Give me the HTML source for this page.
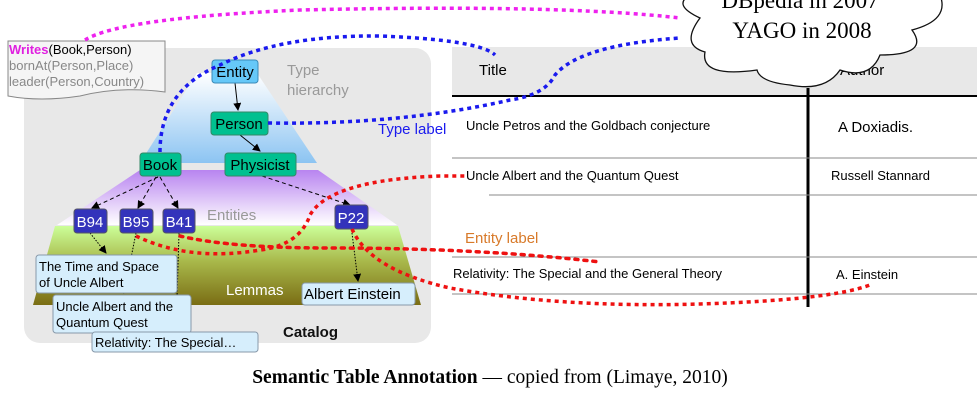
<!DOCTYPE html>
<html><head><meta charset="utf-8"><style>
body{margin:0;background:#fff;width:977px;height:410px;overflow:hidden}
svg{display:block}
.s{font-family:"Liberation Sans",sans-serif}
.r{font-family:"Liberation Serif",serif}
</style></head><body>
<svg width="977" height="410" viewBox="0 0 977 410">
<defs>
<linearGradient id="gb" x1="0" y1="0" x2="0" y2="1"><stop offset="0" stop-color="#fff"/><stop offset="1" stop-color="#8cc4f2"/></linearGradient>
<linearGradient id="gp" x1="0" y1="0" x2="0" y2="1"><stop offset="0" stop-color="#b884f0"/><stop offset="1" stop-color="#fff"/></linearGradient>
<linearGradient id="gg" x1="0" y1="0" x2="0" y2="1"><stop offset="0" stop-color="#ccff99"/><stop offset="0.45" stop-color="#a8b84a"/><stop offset="1" stop-color="#7a6d14"/></linearGradient>
<marker id="ar" markerWidth="8" markerHeight="8" refX="7" refY="4" orient="auto"><path d="M0,0 L8,4 L0,8 z" fill="#000"/></marker>
</defs>
<g class="s">
<rect x="24" y="48" width="407" height="295" rx="16" fill="#e8e8e8"/>
<polygon points="197,73 257,73 317,163 140,163" fill="url(#gb)"/>
<polygon points="140,170 318,170 397,225 57,225" fill="url(#gp)"/>
<polygon points="55,226 398,226 421,305 33,305" fill="url(#gg)"/>
<text x="287" y="75" font-size="15" fill="#999">Type</text>
<text x="287" y="95" font-size="15" fill="#999">hierarchy</text>
<text x="207" y="220" font-size="15" fill="#999">Entities</text>
<text x="226" y="295" font-size="15" fill="#fff">Lemmas</text>
<text x="283" y="337" font-size="15" font-weight="bold" fill="#111">Catalog</text>
<g stroke="#000" stroke-width="1" fill="none">
<line x1="235" y1="83" x2="238" y2="110" marker-end="url(#ar)"/>
<line x1="240" y1="135" x2="260" y2="151" marker-end="url(#ar)"/>
<g stroke-dasharray="4,3">
<line x1="158" y1="177" x2="92" y2="208" marker-end="url(#ar)"/>
<line x1="156" y1="177" x2="138" y2="208" marker-end="url(#ar)"/>
<line x1="160" y1="177" x2="178" y2="208" marker-end="url(#ar)"/>
<line x1="262" y1="176" x2="350" y2="205" marker-end="url(#ar)"/>
</g>
<g stroke-dasharray="1.5,1.5">
<line x1="90" y1="233" x2="106" y2="253" marker-end="url(#ar)"/>
<line x1="136" y1="233" x2="124" y2="293" marker-end="url(#ar)"/>
<line x1="179" y1="233" x2="176" y2="330" marker-end="url(#ar)"/>
<line x1="352" y1="233" x2="358" y2="281" marker-end="url(#ar)"/>
</g>
</g>
<g font-size="15">
<rect x="212" y="60" width="46" height="23" rx="3" fill="#66c8f8" stroke="#3a8ab8"/><text x="235" y="77" text-anchor="middle">Entity</text>
<rect x="211" y="112" width="57" height="23" rx="3" fill="#00c090" stroke="#338866"/><text x="239" y="129" text-anchor="middle">Person</text>
<rect x="140" y="153" width="41" height="23" rx="3" fill="#00c090" stroke="#338866"/><text x="160" y="170" text-anchor="middle">Book</text>
<rect x="225" y="153" width="71" height="23" rx="3" fill="#00c090" stroke="#338866"/><text x="260" y="170" text-anchor="middle">Physicist</text>
<g fill="#fff">
<rect x="74" y="209" width="33" height="24" rx="3" fill="#3333bb" stroke="#556"/><text x="90" y="227" text-anchor="middle">B94</text>
<rect x="120" y="209" width="33" height="24" rx="3" fill="#3333bb" stroke="#556"/><text x="136" y="227" text-anchor="middle">B95</text>
<rect x="163" y="209" width="32" height="24" rx="3" fill="#3333bb" stroke="#556"/><text x="179" y="227" text-anchor="middle">B41</text>
<rect x="335" y="205" width="33" height="24" rx="3" fill="#3333bb" stroke="#556"/><text x="351" y="223" text-anchor="middle">P22</text>
</g>
</g>
<g font-size="13" stroke-width="1">
<rect x="36" y="255" width="141" height="38" rx="3" fill="#d6eefc" stroke="#89a"/>
<text x="39" y="271">The Time and Space</text><text x="39" y="287">of Uncle Albert</text>
<rect x="53" y="295" width="138" height="38" rx="3" fill="#d6eefc" stroke="#89a"/>
<text x="56" y="311">Uncle Albert and the</text><text x="56" y="327">Quantum Quest</text>
<rect x="92" y="332" width="166" height="20" rx="3" fill="#d6eefc" stroke="#89a"/>
<text x="95" y="347">Relativity: The Special…</text>
<rect x="302" y="283" width="113" height="22" rx="3" fill="#d6eefc" stroke="#89a"/>
<text x="304" y="299" font-size="15">Albert Einstein</text>
</g>
<path d="M8,41 L165,41 L165,92 Q120,86 80,96 Q40,102 8,96 Z" fill="#f5f5f5" stroke="#888"/>
<g font-size="13"><text x="9" y="54"><tspan fill="#e020e0" font-weight="bold">Writes</tspan>(Book,Person)</text>
<text x="9" y="70" fill="#888">bornAt(Person,Place)</text>
<text x="9" y="86" fill="#888">leader(Person,Country)</text></g>
<rect x="452" y="47" width="525" height="49" fill="#e8e8e8"/>
<text x="479" y="75" font-size="15">Title</text>
<text x="840" y="75" font-size="15">Author</text>
<line x1="452" y1="96" x2="977" y2="96" stroke="#000" stroke-width="2"/>
<line x1="808" y1="88" x2="808" y2="307" stroke="#000" stroke-width="3"/>
<g stroke="#888" stroke-width="1">
<line x1="452" y1="158" x2="977" y2="158"/><line x1="489" y1="195" x2="977" y2="195"/>
<line x1="452" y1="257" x2="977" y2="257"/><line x1="452" y1="294" x2="977" y2="294"/></g>
<g font-size="13">
<text x="466" y="130">Uncle Petros and the Goldbach conjecture</text>
<text x="838" y="132" font-size="15">A  Doxiadis.</text>
<text x="466" y="180">Uncle Albert and the Quantum Quest</text>
<text x="831" y="180">Russell Stannard</text>
<text x="453" y="278">Relativity: The Special and the General Theory</text>
<text x="836" y="279">A. Einstein</text></g>
<text x="465" y="243" font-size="15" fill="#d87a2a">Entity label</text>
<text x="378" y="134" font-size="15" fill="#1a1aee">Type label</text>
</g>
<g fill="none" stroke-width="3.5" stroke-dasharray="4,4">
<path d="M85,40 Q120,18 300,10 Q560,4 680,18" stroke="#ee22ee"/>
<path d="M160,152 Q160,90 220,65 Q280,35 380,36 Q480,40 495,55" stroke="#1a1aee"/>
<path d="M268,123 Q400,125 510,100 Q545,95 555,75 Q580,45 680,38" stroke="#1a1aee"/>
<path d="M136,236 Q190,262 260,250 Q300,245 310,215 Q330,180 440,176 L465,176" stroke="#ee1111"/>
<path d="M180,236 Q230,248 330,248 Q480,248 600,262" stroke="#ee1111" stroke-dasharray="3,6" stroke-linecap="round"/>
<path d="M352,229 Q370,270 450,288 Q560,308 700,304 Q830,300 870,285" stroke="#ee1111"/>
</g>
<path d="M700,18 Q672,5 690,-5 L940,-5 Q950,20 912,30 Q930,55 880,55 Q870,80 840,70 Q825,92 790,85 Q760,82 757,70 Q700,78 705,52 Q680,45 700,18 Z" fill="#fff" stroke="#111" stroke-width="1.3"/>
<text class="r" x="800" y="8" font-size="23" text-anchor="middle">DBpedia in 2007</text>
<text class="r" x="802" y="38" font-size="23" text-anchor="middle">YAGO in 2008</text>
<text class="r" x="490" y="383" font-size="19.5" text-anchor="middle"><tspan font-weight="bold">Semantic Table Annotation</tspan> — copied from (Limaye, 2010)</text>
</svg>
</body></html>
